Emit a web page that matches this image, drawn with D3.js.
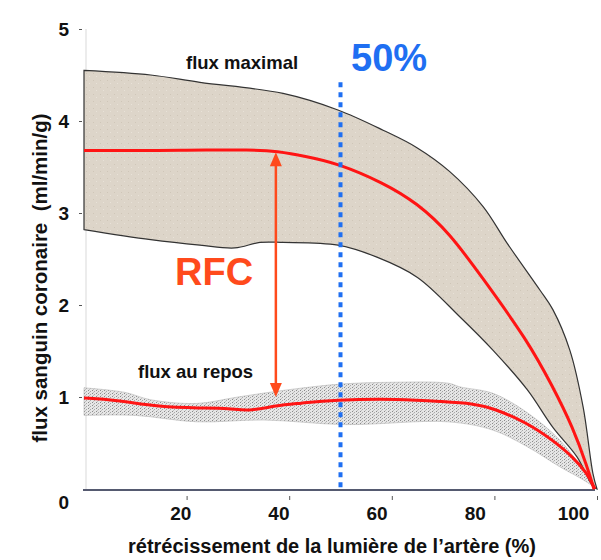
<!DOCTYPE html>
<html>
<head>
<meta charset="utf-8">
<script src="https://cdn.jsdelivr.net/npm/d3@7"></script>
<style>
  body { margin: 0; background: #fff; }
  svg text { font-family: "Liberation Sans", Arial, Helvetica, sans-serif; font-weight: bold; }
</style>
</head>
<body>
<svg id="chart" width="601" height="560"></svg>
<script>
/* values: x = narrowing (%), y = flow (ml/min/g) */
let max_upper = [[0, 4.55], [13, 4.5], [22.6, 4.42], [38.8, 4.3], [49.5, 4.12], [58.3, 3.9], [64.9, 3.71], [71.3, 3.45], [77.8, 3.07], [82.5, 2.67], [88.9, 2.16], [91.4, 1.95], [94.7, 1.51], [97.3, 0.89], [99.2, 0.17], [100, 0]];
let max_lower = [[0, 2.82], [13, 2.71], [22.6, 2.65], [29.4, 2.62], [34.3, 2.68], [38.8, 2.68], [49.5, 2.65], [57.1, 2.52], [65, 2.3], [73.3, 1.87], [79.7, 1.51], [86.4, 1.08], [91.4, 0.67], [96.1, 0.35], [99.2, 0.03], [100, 0]];
let max_mean = [[0, 3.68], [20, 3.68], [33, 3.69], [37.6, 3.67], [43, 3.62], [49.5, 3.54], [58.3, 3.33], [64.9, 3.11], [71.3, 2.78], [77.6, 2.3], [86.4, 1.62], [91.4, 1.11], [95.3, 0.67], [98.1, 0.24], [99.4, 0]];

let rest_upper = [[0, 1.1], [8, 1.05], [13, 0.97], [22, 0.93], [30, 1.0], [40, 1.08], [50, 1.14], [60, 1.16], [71, 1.15], [73.3, 1.11], [79.7, 1.04], [86.4, 0.83], [92.8, 0.53], [97.3, 0.21], [100, 0]];
let rest_lower = [[0, 0.8], [10, 0.8], [22, 0.73], [35, 0.75], [51, 0.7], [71, 0.73], [79.7, 0.64], [86.4, 0.46], [92.8, 0.24], [97.3, 0.1], [100, 0]];
let rest_mean = [[0, 0.99], [6, 0.97], [14.8, 0.89], [22.6, 0.88], [28.5, 0.88], [31.8, 0.84], [37.6, 0.91], [42, 0.93], [48.5, 0.97], [61.6, 0.98], [70, 0.95], [75.8, 0.93], [79.7, 0.88], [86.4, 0.72], [91.4, 0.53], [95.3, 0.35], [98.1, 0.17], [99.6, 0]];

let x_ticks = [20, 40, 60, 80, 100];
let y_ticks = [0, 1, 2, 3, 4, 5];
let rfc_x = 37.4;          // where the RFC arrow stands
let rfc_top = 3.66;
let rfc_bottom = 1.0;
let threshold = 50;        // the 50% line
let threshold_top = 4.42;

let svg = d3.select("#chart");

let x = d3.scaleLinear().domain([0, 100]).range([84, 597]);
let y = d3.scaleLinear().domain([0, 5]).range([489, 29]);
// tick labels in the picture sit a little left of their tick marks
let x_label = d3.scaleLinear().domain([0, 100]).range([82, 573]);

/* textures */
let defs = svg.append("defs");
let pat = defs.append("pattern").attr("id", "beige").attr("width", 7).attr("height", 7)
    .attr("patternUnits", "userSpaceOnUse");
pat.append("rect").attr("width", 7).attr("height", 7).attr("fill", "#ddd5c9");
pat.append("rect").attr("x", 2).attr("y", 3).attr("width", 1).attr("height", 1).attr("fill", "#cfc6b8");
pat.append("rect").attr("x", 5).attr("y", 6).attr("width", 1).attr("height", 1).attr("fill", "#e8e2d8");

let grey = defs.append("pattern").attr("id", "grey").attr("width", 4).attr("height", 3)
    .attr("patternUnits", "userSpaceOnUse");
grey.append("rect").attr("width", 4).attr("height", 3).attr("fill", "#e6e6e6");
grey.append("rect").attr("x", 0).attr("y", 0).attr("width", 1).attr("height", 1).attr("fill", "#8a8a8a");
grey.append("rect").attr("x", 2).attr("y", 1).attr("width", 1).attr("height", 1).attr("fill", "#a8a8a8");
grey.append("rect").attr("x", 1).attr("y", 2).attr("width", 1).attr("height", 1).attr("fill", "#c0c0c0");

let line = d3.line()
    .x(function (d) { return x(d[0]); })
    .y(function (d) { return y(d[1]); })
    .curve(d3.curveCatmullRom.alpha(0.5));

let smooth = d3.line()
    .x(function (d) { return x(d[0]); })
    .y(function (d) { return y(d[1]); })
    .curve(d3.curveBasis);

function band(upper, lower) {
    // upper edge left to right, lower edge back, straight left side
    let back = line(lower.slice().reverse());
    return line(upper) + "L" + back.slice(1) + "Z";
}

/* axes */
svg.append("line")
    .attr("x1", x(0) + 2).attr("x2", x(0) + 2)
    .attr("y1", y(5)).attr("y2", y(0))
    .attr("stroke", "#d9d9d9").attr("stroke-width", 1);
svg.append("line")
    .attr("x1", x(0) - 1).attr("x2", x(100) - 2)
    .attr("y1", y(0) + 1).attr("y2", y(0) + 1)
    .attr("stroke", "#1c2340").attr("stroke-width", 1.5);

let y_axis = svg.append("g")
    .attr("transform", "translate(" + x(0) + ",0)")
    .call(d3.axisLeft(y).tickValues(y_ticks).tickSize(3).tickPadding(12).tickFormat(d3.format("d")));
y_axis.select(".domain").remove();
y_axis.selectAll(".tick line").attr("stroke", "#555").attr("x1", -2).attr("x2", -5);
y_axis.selectAll("text").attr("font-size", 19).attr("fill", "#111").attr("dy", "0.35em");
y_axis.selectAll(".tick").filter(function (d) { return d === 0; }).select("text").attr("dy", "1.05em");
y_axis.selectAll(".tick").filter(function (d) { return d === 0; }).select("line").remove();

let x_axis = svg.append("g")
    .attr("transform", "translate(0," + y(0) + ")")
    .call(d3.axisBottom(x).tickValues(x_ticks).tickSize(4).tickPadding(0));
x_axis.select(".domain").remove();
x_axis.selectAll(".tick line").attr("stroke", "#555").attr("y1", 7).attr("y2", 11);
x_axis.selectAll("text").attr("font-size", 19).attr("fill", "#111").attr("y", 18).attr("dy", "0.71em")
    .attr("dx", function (d) { return x_label(d) - x(d); });

svg.append("text")
    .attr("transform", "translate(47,278) rotate(-90)")
    .attr("text-anchor", "middle")
    .attr("font-size", 20.5)
    .attr("fill", "#111")
    .attr("xml:space", "preserve")
    .text("flux sanguin coronaire  (ml/min/g)");

svg.append("text")
    .attr("x", 332).attr("y", 553)
    .attr("text-anchor", "middle")
    .attr("font-size", 20)
    .attr("fill", "#111")
    .text("rétrécissement de la lumière de l’artère (%)");

/* rest band */
svg.append("path")
    .attr("d", band(rest_upper, rest_lower))
    .attr("fill", "url(#grey)")
    .attr("stroke", "#b5b5b5").attr("stroke-width", 0.6);

/* maximal band */
svg.append("path")
    .attr("d", band(max_upper, max_lower))
    .attr("fill", "url(#beige)")
    .attr("stroke", "#333").attr("stroke-width", 1.2);

/* mean curves */
svg.append("path").attr("d", smooth(max_mean))
    .attr("fill", "none").attr("stroke", "#ff1414").attr("stroke-width", 3);
svg.append("path").attr("d", smooth(rest_mean))
    .attr("fill", "none").attr("stroke", "#ff1414").attr("stroke-width", 3);

/* 50% line */
svg.append("line")
    .attr("x1", x(threshold)).attr("x2", x(threshold))
    .attr("y1", y(threshold_top)).attr("y2", y(0))
    .attr("stroke", "#1f6ff2").attr("stroke-width", 4)
    .attr("stroke-dasharray", "5,5");

/* RFC arrow */
let orange = "#ff4a1c";
let ax = x(rfc_x);
let ay1 = y(rfc_top), ay2 = y(rfc_bottom);
svg.append("line")
    .attr("x1", ax).attr("x2", ax)
    .attr("y1", ay1 + 10).attr("y2", ay2 - 10)
    .attr("stroke", orange).attr("stroke-width", 2.5);
svg.append("path")
    .attr("d", "M" + ax + "," + ay1 + "L" + (ax - 6) + "," + (ay1 + 14) + "L" + (ax + 6) + "," + (ay1 + 14) + "Z")
    .attr("fill", orange);
svg.append("path")
    .attr("d", "M" + ax + "," + ay2 + "L" + (ax - 6) + "," + (ay2 - 14) + "L" + (ax + 6) + "," + (ay2 - 14) + "Z")
    .attr("fill", orange);

/* labels */
svg.append("text").attr("x", 186).attr("y", 69).attr("font-size", 18.5).attr("fill", "#111").text("flux maximal");
svg.append("text").attr("x", 138).attr("y", 378).attr("font-size", 18.5).attr("fill", "#111").text("flux au repos");
svg.append("text").attr("x", 351).attr("y", 71).attr("font-size", 38).attr("fill", "#1f6ff2").text("50%");
svg.append("text").attr("x", 175).attr("y", 285).attr("font-size", 38).attr("fill", orange).text("RFC");
</script>
</body>
</html>
